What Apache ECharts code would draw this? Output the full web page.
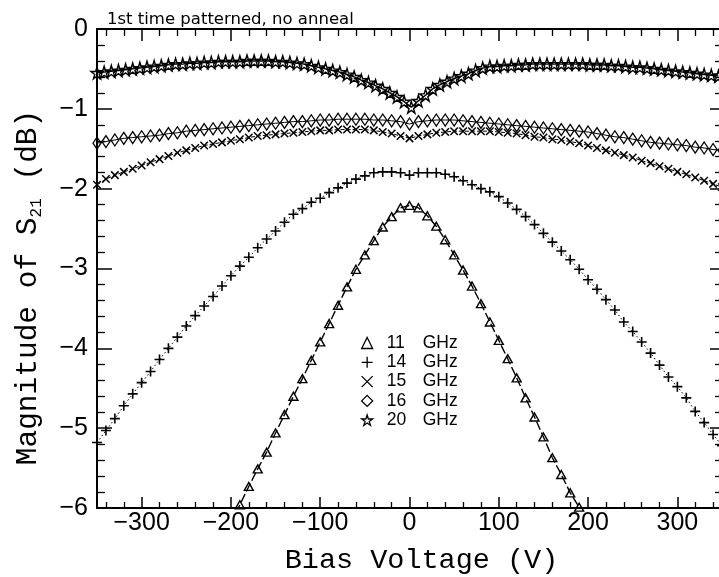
<!DOCTYPE html>
<html><head><meta charset="utf-8">
<script src="https://cdn.jsdelivr.net/npm/echarts@6/dist/echarts.min.js"></script>
<style>html,body{margin:0;padding:0;background:#fff}#c{width:719px;height:577px}</style>
</head><body><div id="c"></div>
<script>
// ---- data ----
const volts = [-350,-340,-330,-320,-310,-300,-290,-280,-270,-260,-250,-240,-230,-220,-210,-200,-190,-180,-170,-160,-150,-140,-130,-120,-110,-100,-90,-80,-70,-60,-50,-40,-30,-20,-10,0,10,20,30,40,50,60,70,80,90,100,110,120,130,140,150,160,170,180,190,200,210,220,230,240,250,260,270,280,290,300,310,320,330,340,350];
const voltsTri = [-200,-190,-180,-170,-160,-150,-140,-130,-120,-110,-100,-90,-80,-70,-60,-50,-40,-30,-20,-10,0,10,20,30,40,50,60,70,80,90,100,110,120,130,140,150,160,170,180,190,200];
const voltsStar = [-350,-342,-334,-326,-318,-310,-302,-294,-286,-278,-270,-262,-254,-246,-238,-230,-222,-214,-206,-198,-190,-182,-174,-166,-158,-150,-142,-134,-126,-118,-110,-102,-94,-86,-78,-70,-62,-54,-46,-38,-30,-22,-14,-6,2,10,18,26,34,42,50,58,66,74,82,90,98,106,114,122,130,138,146,154,162,170,178,186,194,202,210,218,226,234,242,250,258,266,274,282,290,298,306,314,322,330,338,346];

const s11 = [-6.2,-5.96,-5.73,-5.51,-5.30,-5.06,-4.83,-4.60,-4.38,-4.15,-3.92,-3.69,-3.46,-3.23,-3.01,-2.83,-2.65,-2.48,-2.35,-2.24,-2.21,-2.24,-2.34,-2.47,-2.64,-2.83,-3.02,-3.22,-3.44,-3.67,-3.90,-4.13,-4.37,-4.62,-4.86,-5.11,-5.37,-5.58,-5.81,-5.99,-6.2];
const s14 = [-5.18,-5.03,-4.88,-4.72,-4.57,-4.43,-4.29,-4.14,-4.00,-3.86,
  -3.72,-3.59,-3.47,-3.35,-3.22,-3.09,-2.97,-2.86,-2.74,-2.63,
  -2.53,-2.42,-2.32,-2.25,-2.17,-2.12,-2.05,-1.99,-1.93,-1.88,
  -1.84,-1.80,-1.79,-1.79,-1.80,-1.83,-1.80,-1.80,-1.80,-1.82,
  -1.85,-1.90,-1.95,-2.00,-2.04,-2.10,-2.18,-2.26,-2.35,-2.45,
  -2.56,-2.67,-2.78,-2.89,-3.01,-3.14,-3.26,-3.39,-3.52,-3.67,
  -3.79,-3.92,-4.06,-4.21,-4.36,-4.48,-4.62,-4.79,-4.93,-5.08,-5.22];
const s15 = [-1.95,-1.88,-1.83,-1.79,-1.75,-1.71,-1.67,-1.63,-1.59,-1.55,
  -1.52,-1.49,-1.46,-1.44,-1.42,-1.40,-1.38,-1.36,-1.34,-1.33,
  -1.32,-1.31,-1.30,-1.29,-1.28,-1.27,-1.27,-1.26,-1.26,-1.26,
  -1.26,-1.27,-1.29,-1.31,-1.34,-1.37,-1.34,-1.32,-1.30,-1.29,
  -1.28,-1.28,-1.28,-1.28,-1.28,-1.29,-1.30,-1.31,-1.33,-1.35,
  -1.36,-1.38,-1.39,-1.41,-1.43,-1.46,-1.49,-1.52,-1.55,-1.58,
  -1.61,-1.65,-1.68,-1.72,-1.75,-1.79,-1.82,-1.86,-1.90,-1.94,-1.98];
const s16 = [-1.43,-1.41,-1.39,-1.37,-1.36,-1.35,-1.34,-1.33,-1.31,-1.30,
  -1.28,-1.27,-1.26,-1.25,-1.24,-1.23,-1.22,-1.21,-1.20,-1.19,
  -1.18,-1.17,-1.16,-1.16,-1.15,-1.14,-1.14,-1.13,-1.13,-1.13,
  -1.13,-1.14,-1.14,-1.15,-1.16,-1.19,-1.16,-1.15,-1.14,-1.14,
  -1.14,-1.15,-1.16,-1.17,-1.18,-1.19,-1.20,-1.21,-1.22,-1.23,
  -1.24,-1.25,-1.26,-1.27,-1.28,-1.29,-1.31,-1.33,-1.35,-1.36,
  -1.38,-1.40,-1.42,-1.43,-1.44,-1.45,-1.46,-1.48,-1.49,-1.51,-1.52];
const s20 = [-0.55,-0.54,-0.53,-0.52,-0.51,-0.50,-0.49,-0.48,-0.47,-0.46,-0.45,-0.44,-0.44,-0.43,-0.43,-0.42,-0.42,-0.41,-0.41,-0.41,-0.41,-0.40,-0.40,-0.40,-0.40,-0.41,-0.41,-0.42,
  -0.43,-0.44,-0.46,-0.48,-0.50,-0.52,-0.54,-0.57,-0.60,-0.64,-0.67,-0.71,-0.75,-0.80,-0.85,-0.91,-0.98,-0.90,-0.83,-0.75,-0.70,-0.66,-0.62,-0.59,-0.56,-0.52,-0.49,-0.47,
  -0.47,-0.46,-0.46,-0.45,-0.45,-0.44,-0.44,-0.44,-0.44,-0.44,-0.44,-0.44,-0.44,-0.45,-0.45,-0.45,-0.46,-0.46,-0.47,-0.48,-0.48,-0.49,-0.50,-0.51,-0.52,-0.53,-0.54,-0.55,-0.56,-0.57,-0.58,-0.59];

const seriesNames = ['11 GHz','14 GHz','15 GHz','16 GHz','20 GHz'];
const xTickValues = [-300,-200,-100,0,100,200,300];
const xTickLabels = ['\u2212300','\u2212200','\u2212100','0','100','200','300'];
const xMinorValues = [-340,-320,-280,-260,-240,-220,-180,-160,-140,-120,-80,-60,-40,-20,20,40,60,80,120,140,160,180,220,240,260,280,320,340];
const yTickValues = [0,-1,-2,-3,-4,-5,-6];
const yTickLabels = ['0','\u22121','\u22122','\u22123','\u22124','\u22125','\u22126'];
const titleText = '1st time patterned, no anneal';

// ---- symbols ----
const SYM_PLUS = 'path://M5,0L5,10M0,5L10,5';
const SYM_CROSS = 'path://M0,0L10,10M10,0L0,10';
const SYM_STAR = 'path://M50,0L61,35L98,35L68,57L79,91L50,70L21,91L32,57L2,35L39,35Z';

const zip = (xs, ys) => xs.map((x, i) => [x, ys[i]]);
const mk = (name, xs, ys, symbol, size, lineType, lw, bw) => ({
  name, type: 'line', data: zip(xs, ys), symbol, symbolSize: size,
  xAxisIndex: 0, yAxisIndex: 0,
  itemStyle: { color: 'rgba(0,0,0,0)', borderColor: '#000', borderWidth: bw },
  lineStyle: { color: '#000', width: lw, type: lineType },
  emphasis: { disabled: true }, clip: true
});

const black = '#000';
const xBase = { type: 'value', min: -350, max: 350, splitLine: { show: false } };
const chart = echarts.init(document.getElementById('c'), null, { renderer: 'canvas' });
chart.setOption({
  animation: false,
  backgroundColor: '#fff',
  title: { text: titleText, left: 102, top: 6, textStyle: { fontFamily: 'DejaVu Sans', fontSize: 16.5, fontWeight: 'normal', color: black } },
  grid: { left: 97, right: -3, top: 29, bottom: 69, outerBoundsMode: 'none', containLabel: false },
  legend: {
    orient: 'vertical', left: 356, top: 329, itemWidth: 11, itemHeight: 11, itemGap: 1.3,
    selectedMode: false,
    itemStyle: { color: 'rgba(0,0,0,0)', borderColor: black, borderWidth: 1.3 },
    data: [
      { name: seriesNames[0], icon: 'triangle' },
      { name: seriesNames[1], icon: SYM_PLUS },
      { name: seriesNames[2], icon: SYM_CROSS },
      { name: seriesNames[3], icon: 'diamond' },
      { name: seriesNames[4], icon: SYM_STAR }
    ],
    formatter: n => { const p = n.split(' '); return '{n|' + p[0] + '}{u|' + p[1] + '}'; },
    textStyle: { fontFamily: 'Liberation Sans', fontSize: 17.5, color: black,
      rich: { n: { fontFamily: 'Liberation Sans', fontSize: 17.5, width: 21, lineHeight: 17, padding: [0,0,0,9] },
              u: { fontFamily: 'Liberation Sans', fontSize: 17.5, lineHeight: 17, padding: [0,0,0,15] } } }
  },
  xAxis: [
    Object.assign({}, xBase, { position: 'bottom',
      axisLine: { onZero: false, lineStyle: { color: black, width: 2 } },
      axisTick: { inside: true, length: 11, customValues: xTickValues, lineStyle: { color: black, width: 1.5 } },
      axisLabel: { customValues: xTickValues, margin: 3, color: black, fontSize: 25, fontFamily: 'Liberation Sans',
        formatter: v => xTickLabels[xTickValues.indexOf(v)] },
      name: 'Bias Voltage (V)', nameLocation: 'middle', nameGap: 38,
      nameTextStyle: { fontFamily: 'Liberation Mono', fontSize: 28.5, color: black, padding: [0,0,0,24] } }),
    Object.assign({}, xBase, { position: 'bottom',
      axisLine: { show: false, onZero: false },
      axisTick: { inside: true, length: 6, customValues: xMinorValues, lineStyle: { color: black, width: 1.3 } },
      axisLabel: { show: false } }),
    Object.assign({}, xBase, { position: 'top',
      axisLine: { onZero: false, lineStyle: { color: black, width: 2 } },
      axisTick: { inside: true, length: 12, customValues: xTickValues, lineStyle: { color: black, width: 1.5 } },
      axisLabel: { show: false } }),
    Object.assign({}, xBase, { position: 'top',
      axisLine: { show: false, onZero: false },
      axisTick: { inside: true, length: 7, customValues: xMinorValues, lineStyle: { color: black, width: 1.3 } },
      axisLabel: { show: false } })
  ],
  yAxis: [
    { type: 'value', position: 'left', min: -6, max: 0, interval: 1, splitLine: { show: false },
      axisLine: { show: true, onZero: false, lineStyle: { color: black, width: 2 } },
      axisTick: { show: true, inside: true, length: 15, lineStyle: { color: black, width: 1.5 } },
      minorTick: { show: true, splitNumber: 5, length: 8, lineStyle: { color: black, width: 1.3 } },
      minorSplitLine: { show: false },
      axisLabel: { margin: 9, color: black, fontSize: 25, fontFamily: 'Liberation Sans',
        formatter: v => yTickLabels[yTickValues.indexOf(v)] },
      name: 'Magnitude of S{s|21} (dB)', nameLocation: 'middle', nameRotate: 90, nameGap: 52,
      nameTextStyle: { fontFamily: 'Liberation Mono', fontSize: 29.5, color: black, padding: [0,38,0,0],
        rich: { s: { fontFamily: 'Liberation Mono', fontSize: 16, verticalAlign: 'top', padding: [18,0,0,0] } } } },
    { type: 'value', position: 'right', min: -6, max: 0, interval: 1, splitLine: { show: false },
      axisLine: { show: true, onZero: false, lineStyle: { color: black, width: 2 } },
      axisTick: { show: true, inside: true, length: 12, lineStyle: { color: black, width: 1.5 } },
      minorTick: { show: true, splitNumber: 5, length: 7, lineStyle: { color: black, width: 1.3 } },
      axisLabel: { show: false } }
  ],
  series: [
    mk(seriesNames[0], voltsTri, s11, 'triangle', [9, 8], [9, 3], 1.4, 1.4),
    mk(seriesNames[1], volts, s14, SYM_PLUS, 10, [1.5, 2.5], 1, 1.6),
    mk(seriesNames[2], volts, s15, SYM_CROSS, 7.5, [4, 2], 1, 1.5),
    mk(seriesNames[3], volts, s16, 'diamond', [8, 12], 'solid', 1, 1.3),
    mk(seriesNames[4], voltsStar, s20, SYM_STAR, 12, 'solid', 1.4, 1.4)
  ]
});
</script></body></html>
